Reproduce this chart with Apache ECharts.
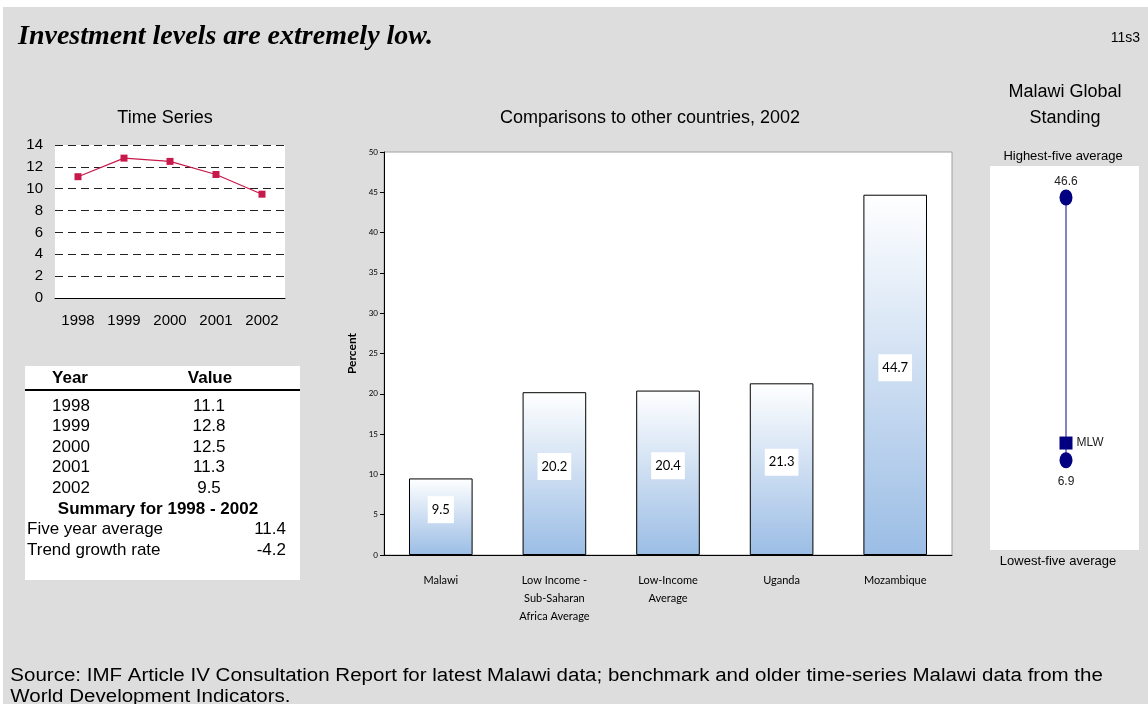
<!DOCTYPE html>
<html>
<head>
<meta charset="utf-8">
<script src="https://cdn.jsdelivr.net/npm/echarts@6/dist/echarts.min.js"></script>
<style>
  html, body { margin: 0; padding: 0; background: #ffffff; }
  #panel { position: absolute; left: 3px; top: 7px; right: 0; bottom: 0; background: #dddddd; }
  #chart { position: absolute; left: 0; top: 0; width: 1148px; height: 704px; }
</style>
</head>
<body>
<div id="panel"></div>
<div id="chart"></div>
<script>
// Malawi investment, time series 1998-2002
const tsYears = ['1998', '1999', '2000', '2001', '2002'];
const tsValues = [11.1, 12.8, 12.5, 11.3, 9.5];
const tsTicks = [0, 2, 4, 6, 8, 10, 12, 14];

// Summary figures for 1998 - 2002
const summaryLabels = ['Five year average', 'Trend growth rate'];
const summaryValues = ['11.4', '-4.2'];

// Cross-country comparison, 2002
const countries = ['Malawi', 'Low Income -\nSub-Saharan\nAfrica Average', 'Low-Income\nAverage', 'Uganda', 'Mozambique'];
const countryValues = [9.5, 20.2, 20.4, 21.3, 44.7];

// Global standing: highest-five and lowest-five averages, Malawi position
const standingRange = [46.6, 6.9];
const standingCode = 'MLW';
const standingValue = 9.5;

const FONT = 'Liberation Sans, Arial, sans-serif';
const GILL = 'Lato, "Open Sans", sans-serif';

const chart = echarts.init(document.getElementById('chart'), null, { renderer: 'canvas' });

// table text built from the series arrays
const tableGraphics = [];
const rowTop = 406, rowStep = 20.6;
tsYears.forEach((y, i) => {
  tableGraphics.push({ type: 'text', x: 71, y: rowTop + i * rowStep,
    style: { text: y, font: '17px ' + FONT, fill: '#000', textAlign: 'center', textVerticalAlign: 'middle' } });
  tableGraphics.push({ type: 'text', x: 209, y: rowTop + i * rowStep,
    style: { text: tsValues[i].toFixed(1), font: '17px ' + FONT, fill: '#000', textAlign: 'center', textVerticalAlign: 'middle' } });
});
tableGraphics.push({ type: 'text', x: 158, y: rowTop + 5 * rowStep,
  style: { text: 'Summary for ' + tsYears[0] + ' - ' + tsYears[tsYears.length - 1], font: 'bold 17px ' + FONT, fill: '#000', textAlign: 'center', textVerticalAlign: 'middle' } });
summaryLabels.forEach((s, i) => {
  tableGraphics.push({ type: 'text', x: 27, y: rowTop + (6 + i) * rowStep,
    style: { text: s, font: '17px ' + FONT, fill: '#000', textAlign: 'left', textVerticalAlign: 'middle' } });
  tableGraphics.push({ type: 'text', x: 286, y: rowTop + (6 + i) * rowStep,
    style: { text: summaryValues[i], font: '17px ' + FONT, fill: '#000', textAlign: 'right', textVerticalAlign: 'middle' } });
});

const option = {
  backgroundColor: 'transparent',
  animation: false,
  graphic: [
    // headline and reference code
    { type: 'text', x: 18, y: 37, style: { text: 'Investment levels are extremely low.', font: 'italic bold 28px "Liberation Serif", "Times New Roman", serif', fill: '#000', textVerticalAlign: 'middle' } },
    { type: 'text', x: 1140, y: 38, style: { text: '11s3', font: '14px ' + FONT, fill: '#000', textAlign: 'right', textVerticalAlign: 'middle' } },
    // panel titles
    { type: 'text', x: 165, y: 118, style: { text: 'Time Series', font: '18px ' + FONT, fill: '#000', textAlign: 'center', textVerticalAlign: 'middle' } },
    { type: 'text', x: 650, y: 118, style: { text: 'Comparisons to other countries, 2002', font: '18px ' + FONT, fill: '#000', textAlign: 'center', textVerticalAlign: 'middle' } },
    { type: 'text', x: 1065, y: 92, style: { text: 'Malawi Global', font: '18px ' + FONT, fill: '#000', textAlign: 'center', textVerticalAlign: 'middle' } },
    { type: 'text', x: 1065, y: 118, style: { text: 'Standing', font: '18px ' + FONT, fill: '#000', textAlign: 'center', textVerticalAlign: 'middle' } },
    // data table
    { type: 'rect', shape: { x: 25, y: 366, width: 275, height: 214 }, style: { fill: '#ffffff' } },
    { type: 'text', x: 70, y: 378, style: { text: 'Year', font: 'bold 17px ' + FONT, fill: '#000', textAlign: 'center', textVerticalAlign: 'middle' } },
    { type: 'text', x: 210, y: 378, style: { text: 'Value', font: 'bold 17px ' + FONT, fill: '#000', textAlign: 'center', textVerticalAlign: 'middle' } },
    { type: 'line', shape: { x1: 25, y1: 390, x2: 300, y2: 390 }, style: { stroke: '#000', lineWidth: 2 } },
    ...tableGraphics,
    // global standing box
    { type: 'rect', shape: { x: 990, y: 166, width: 149, height: 384 }, style: { fill: '#ffffff' } },
    { type: 'text', x: 1063, y: 156, style: { text: 'Highest-five average', font: '13px ' + FONT, fill: '#000', textAlign: 'center', textVerticalAlign: 'middle' } },
    { type: 'text', x: 1058, y: 561, style: { text: 'Lowest-five average', font: '13px ' + FONT, fill: '#000', textAlign: 'center', textVerticalAlign: 'middle' } },
    // source note (slightly widened lettering)
    { type: 'text', x: 12, y: 676, scaleX: 1.14, originX: 12, originY: 676,
      style: { text: 'Source: IMF Article IV Consultation Report for latest Malawi data; benchmark and older time-series Malawi data from the', font: '18px ' + FONT, fill: '#000', textVerticalAlign: 'middle' } },
    { type: 'text', x: 12, y: 697, scaleX: 1.14, originX: 12, originY: 697,
      style: { text: 'World Development Indicators.', font: '18px ' + FONT, fill: '#000', textVerticalAlign: 'middle' } }
  ],
  grid: [
    { left: 55, top: 145, width: 230, height: 153, show: true, backgroundColor: '#ffffff', borderWidth: 0 },
    { left: 384, top: 152, width: 568, height: 403, show: true, backgroundColor: '#ffffff', borderColor: '#a0a0a0', borderWidth: 1 },
    { left: 1026, top: 175, width: 80, height: 364 }
  ],
  xAxis: [
    { gridIndex: 0, type: 'category', data: tsYears, boundaryGap: true,
      axisLine: { lineStyle: { color: '#000', width: 1 } },
      axisTick: { length: 5, lineStyle: { color: '#000' } },
      axisLabel: { fontSize: 15, fontFamily: FONT, color: '#000', margin: 15 } },
    { gridIndex: 1, type: 'category', data: countries, boundaryGap: true,
      axisLine: { lineStyle: { color: '#000', width: 1 } },
      axisTick: { length: 5, lineStyle: { color: '#000' } },
      axisLabel: { fontSize: 11, fontFamily: GILL, color: '#000', margin: 16, lineHeight: 18, interval: 0 } },
    { gridIndex: 2, type: 'value', min: 0, max: 2, show: false }
  ],
  yAxis: [
    { gridIndex: 0, type: 'value', min: tsTicks[0], max: tsTicks[tsTicks.length - 1], interval: 2,
      axisLine: { show: false }, axisTick: { show: false },
      axisLabel: { fontSize: 15, fontFamily: FONT, color: '#000', margin: 12 },
      splitLine: { show: true, lineStyle: { color: '#222', type: [8, 5], width: 1 } } },
    { gridIndex: 1, type: 'value', min: 0, max: 50, interval: 5,
      name: 'Percent', nameLocation: 'middle', nameRotate: 90, nameGap: 26,
      nameTextStyle: { fontSize: 12, fontWeight: 'bold', fontFamily: GILL, color: '#000' },
      axisLine: { show: true, lineStyle: { color: '#000', width: 1 } },
      axisTick: { show: true, length: 4, lineStyle: { color: '#000' } },
      axisLabel: { fontSize: 8, fontFamily: GILL, color: '#000', margin: 6 },
      splitLine: { show: false } },
    { gridIndex: 2, type: 'value', min: -5, max: 50, show: false }
  ],
  series: [
    { type: 'line', xAxisIndex: 0, yAxisIndex: 0, data: tsValues,
      symbol: 'rect', symbolSize: 7,
      lineStyle: { color: '#c8194b', width: 1.2 }, itemStyle: { color: '#c8194b' } },
    { type: 'bar', xAxisIndex: 1, yAxisIndex: 1, data: countryValues, barWidth: '56%',
      itemStyle: {
        borderColor: '#000', borderWidth: 1,
        color: new echarts.graphic.LinearGradient(0, 0, 0, 1, [
          { offset: 0, color: '#ffffff' },
          { offset: 1, color: '#9bbde5' }
        ])
      },
      label: { show: true, position: 'inside', offset: [0, -7], color: '#000', fontSize: 13, fontFamily: GILL,
        backgroundColor: '#ffffff', padding: [7, 4] } },
    { type: 'line', xAxisIndex: 2, yAxisIndex: 2, data: standingRange.map(v => [1, v]),
      symbol: 'none', lineStyle: { color: '#3030a8', width: 1.2 }, z: 2 },
    { type: 'scatter', xAxisIndex: 2, yAxisIndex: 2,
      data: standingRange.map((v, i) => ({
        value: [1, v],
        label: { position: i === 0 ? 'top' : 'bottom', distance: i === 0 ? 2 : 7 }
      })),
      symbol: 'circle', symbolSize: [13, 16], itemStyle: { color: '#000080', opacity: 1 }, z: 3,
      label: { show: true, fontSize: 12, fontFamily: FONT, color: '#222',
        formatter: p => p.value[1].toFixed(1) },
      emphasis: { disabled: true } },
    { type: 'scatter', xAxisIndex: 2, yAxisIndex: 2, data: [[1, standingValue]],
      symbol: 'rect', symbolSize: 13, itemStyle: { color: '#000080', opacity: 1 }, z: 4,
      label: { show: true, position: 'right', distance: 4, formatter: standingCode, fontSize: 12, fontFamily: FONT, color: '#222' },
      emphasis: { disabled: true } }
  ]
};

chart.setOption(option);
</script>
</body>
</html>
